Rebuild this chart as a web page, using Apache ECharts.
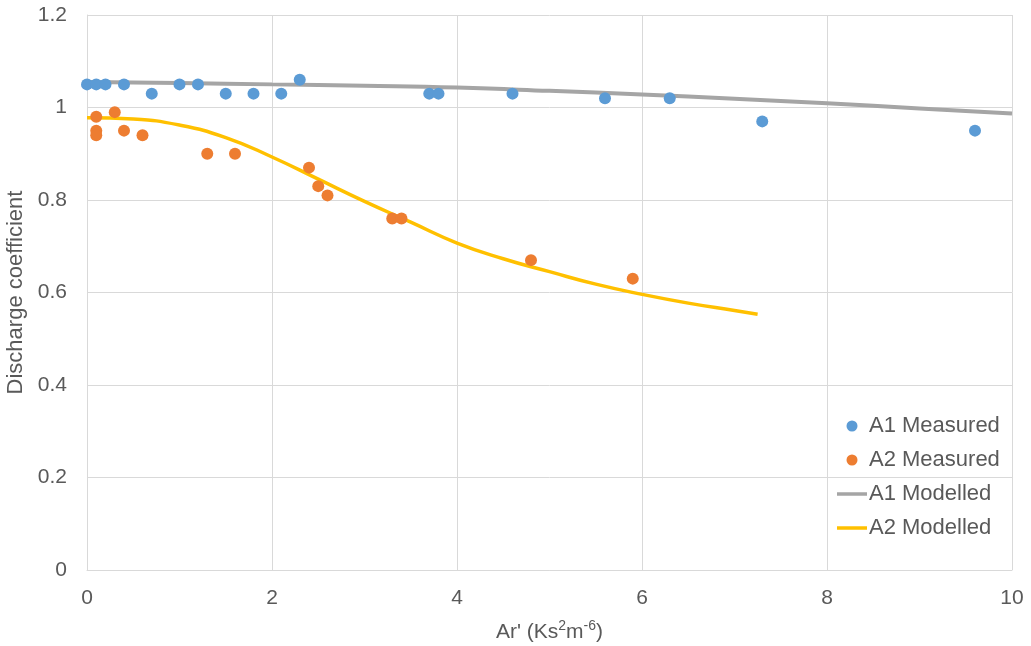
<!DOCTYPE html>
<html>
<head>
<meta charset="utf-8">
<script src="https://cdn.jsdelivr.net/npm/echarts@6/dist/echarts.min.js"></script>
<style>html,body{margin:0;padding:0;background:#fff}#c{width:1031px;height:646px}</style>
</head>
<body>
<div id="c"></div>
<script>
// A1 measured
const a1MeasuredX = [0, 0.1, 0.2, 0.4, 0.7, 1.0, 1.2, 1.5, 1.8, 2.1, 2.3, 3.7, 3.8, 4.6, 5.6, 6.3, 7.3, 9.6];
const a1MeasuredY = [1.05, 1.05, 1.05, 1.05, 1.03, 1.05, 1.05, 1.03, 1.03, 1.03, 1.06, 1.03, 1.03, 1.03, 1.02, 1.02, 0.97, 0.95];
// A2 measured
const a2MeasuredX = [0.1, 0.1, 0.1, 0.3, 0.4, 0.6, 1.3, 1.6, 2.4, 2.5, 2.6, 3.3, 3.4, 4.8, 5.9];
const a2MeasuredY = [0.98, 0.95, 0.94, 0.99, 0.95, 0.94, 0.90, 0.90, 0.87, 0.83, 0.81, 0.76, 0.76, 0.67, 0.63];
// A1 modelled
const a1ModelX = [0, 1, 2, 3, 4, 5, 6, 7, 8, 9, 10];
const a1ModelY = [1.055, 1.053, 1.050, 1.047, 1.043, 1.036, 1.028, 1.019, 1.009, 0.998, 0.987];
// A2 modelled
const a2ModelX = [0, 0.5, 1, 1.5, 2, 2.5, 3, 3.5, 4, 4.5, 5, 5.5, 6, 6.5, 7, 7.25];
const a2ModelY = [0.978, 0.975, 0.962, 0.935, 0.893, 0.845, 0.797, 0.752, 0.707, 0.673, 0.645, 0.618, 0.596, 0.577, 0.561, 0.553];

const xTicks = [0, 2, 4, 6, 8, 10];
const yTicks = [0, 0.2, 0.4, 0.6, 0.8, 1, 1.2];

const zip = (xs, ys) => xs.map((x, i) => [x, ys[i]]);
const txt = '#595959';
const grid = '#D9D9D9';
const font = '"Liberation Sans", Arial, sans-serif';
const lineIcon = 'path://M0 0 H30 V3.5 H0 Z';

const chart = echarts.init(document.getElementById('c'));
chart.setOption({
  animation: false,
  textStyle: { fontFamily: font },
  grid: { left: 87, right: 19, top: 15, bottom: 76, containLabel: false, outerBoundsMode: 'none' },
  legend: {
    orient: 'vertical',
    left: 832,
    top: 410,
    itemWidth: 30,
    itemHeight: 11,
    itemGap: 12,
    textStyle: { color: txt, fontSize: 22, fontFamily: font, padding: [0, 0, 0, -3] },
    data: [
      { name: 'A1 Measured', icon: 'circle' },
      { name: 'A2 Measured', icon: 'circle' },
      { name: 'A1 Modelled', icon: lineIcon },
      { name: 'A2 Modelled', icon: lineIcon }
    ]
  },
  xAxis: {
    type: 'value',
    min: xTicks[0],
    max: xTicks[xTicks.length - 1],
    interval: 2,
    axisLine: { show: true, lineStyle: { color: grid, width: 1 } },
    axisTick: { show: false },
    splitLine: { show: true, lineStyle: { color: grid, width: 1 } },
    axisLabel: { color: txt, fontSize: 21, margin: 18, fontFamily: font },
    name: "{n|Ar' (Ks}{s|2}{n|m}{s|-6}{n|)}",
    nameLocation: 'middle',
    nameGap: 49,
    nameTextStyle: {
      rich: {
        n: { fontSize: 21, color: txt, fontFamily: font, verticalAlign: 'bottom', lineHeight: 24 },
        s: { fontSize: 14, color: txt, fontFamily: font, verticalAlign: 'top', lineHeight: 24 }
      }
    }
  },
  yAxis: {
    type: 'value',
    min: yTicks[0],
    max: yTicks[yTicks.length - 1],
    interval: 0.2,
    axisLine: { show: true, lineStyle: { color: grid, width: 1 } },
    axisTick: { show: false },
    splitLine: { show: true, lineStyle: { color: grid, width: 1 } },
    axisLabel: { color: txt, fontSize: 21, margin: 20, fontFamily: font },
    name: 'Discharge coefficient',
    nameLocation: 'middle',
    nameGap: 58,
    nameTextStyle: { color: txt, fontSize: 22, fontFamily: font }
  },
  series: [
    {
      name: 'A1 Measured', type: 'scatter', z: 5,
      symbol: 'circle', symbolSize: 12,
      itemStyle: { color: '#5B9BD5', opacity: 1 },
      data: zip(a1MeasuredX, a1MeasuredY)
    },
    {
      name: 'A2 Measured', type: 'scatter', z: 5,
      symbol: 'circle', symbolSize: 12,
      itemStyle: { color: '#ED7D31', opacity: 1 },
      data: zip(a2MeasuredX, a2MeasuredY)
    },
    {
      name: 'A1 Modelled', type: 'line', z: 2,
      smooth: true, symbol: 'none', showSymbol: false,
      lineStyle: { color: '#A5A5A5', width: 4 },
      itemStyle: { color: '#A5A5A5' },
      data: zip(a1ModelX, a1ModelY)
    },
    {
      name: 'A2 Modelled', type: 'line', z: 2,
      smooth: true, symbol: 'none', showSymbol: false,
      lineStyle: { color: '#FFC000', width: 3.5 },
      itemStyle: { color: '#FFC000' },
      data: zip(a2ModelX, a2ModelY)
    }
  ]
});
</script>
</body>
</html>
